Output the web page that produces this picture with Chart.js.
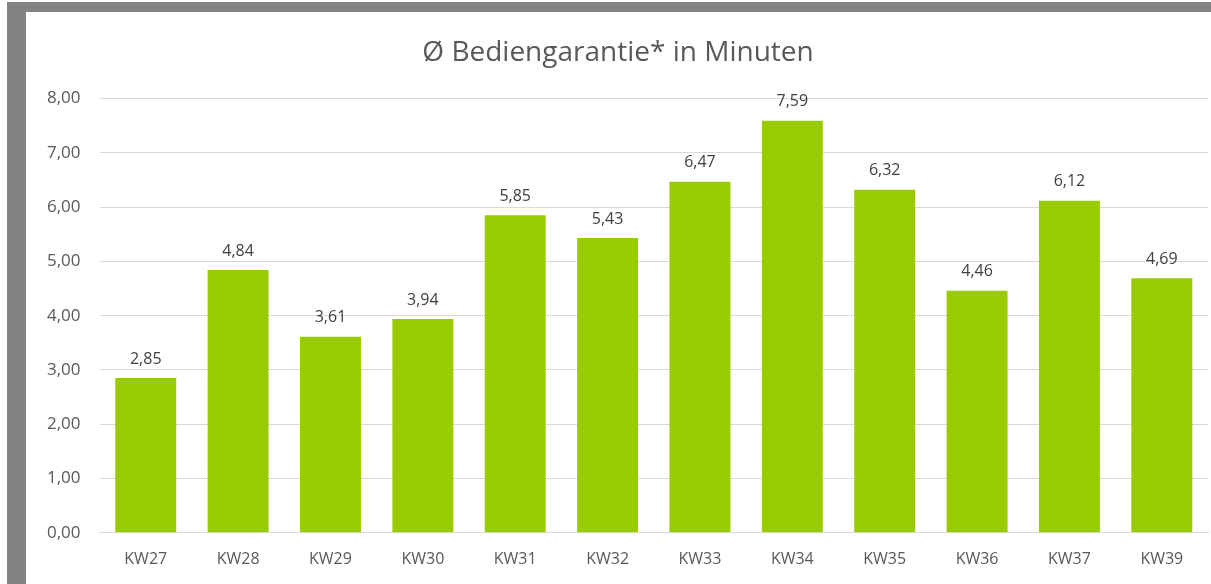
<!DOCTYPE html>
<html>
<head>
<meta charset="utf-8">
<script src="https://cdn.jsdelivr.net/npm/chart.js@4"></script>
<style>
  body { margin: 0; background: #fff; }
  #frame {
    position: absolute; left: 7px; top: 2px;
    width: 1185px; height: 572px;
    border-left: 19px solid #838383; border-top: 10px solid #838383;
    background: #fff;
  }
</style>
</head>
<body>
<div id="frame"><canvas id="barChart" width="1185" height="572"></canvas></div>
<script>
// weeks and values
const weeks = ['KW27','KW28','KW29','KW30','KW31','KW32','KW33','KW34','KW35','KW36','KW37','KW39'];
const minutes = [2.85, 4.84, 3.61, 3.94, 5.85, 5.43, 6.47, 7.59, 6.32, 4.46, 6.12, 4.69];
const yTicks = [0, 1, 2, 3, 4, 5, 6, 7, 8];

const fmt = function(v){ return v.toFixed(2).replace('.', ','); };
const font = '"Open Sans", "Liberation Sans", sans-serif';

//value labels above the bars
const valueLabels = {
  id: 'valueLabels',
  afterDatasetsDraw: function(chart){
    const ctx = chart.ctx;
    const meta = chart.getDatasetMeta(0);
    ctx.save();
    ctx.font = '16px ' + font;
    ctx.fillStyle = '#404040';
    ctx.textAlign = 'center';
    ctx.textBaseline = 'bottom';
    meta.data.forEach(function(bar, i){
      ctx.fillText(fmt(minutes[i]), bar.x, bar.y - 11);
    });
    ctx.restore();
  }
};

const data = {
  labels: weeks,
  datasets: [{
    data: minutes,
    backgroundColor: '#99cc00',
    categoryPercentage: 0.66,
    barPercentage: 1
  }]
};

const config = {
  type: 'bar',
  data: data,
  options: {
    responsive: false,
    animation: false,
    layout: { padding: { left: 2, right: 3, top: 0, bottom: 6 } },
    plugins: {
      legend: { display: false },
      tooltip: { enabled: false },
      title: {
        display: true,
        text: 'Ø Bediengarantie* in Minuten',
        color: '#595959',
        font: { family: font, size: 28, weight: 'normal' },
        padding: { top: 24, bottom: 29 }
      }
    },
    scales: {
      y: {
        min: 0, max: 8,
        afterBuildTicks: function(axis){ axis.ticks = yTicks.map(function(v){ return { value: v }; }); },
        grid: { color: '#d9d9d9', drawTicks: false },
        border: { display: false },
        ticks: {
          color: '#595959',
          font: { family: font, size: 17 },
          padding: 19,
          callback: function(v){ return fmt(v); }
        }
      },
      x: {
        grid: { display: false },
        border: { color: '#d9d9d9' },
        ticks: {
          color: '#595959',
          font: { family: font, size: 16 },
          padding: 9
        }
      }
    }
  },
  plugins: [valueLabels]
};

const barChart = new Chart(document.getElementById('barChart'), config);
</script>
</body>
</html>
